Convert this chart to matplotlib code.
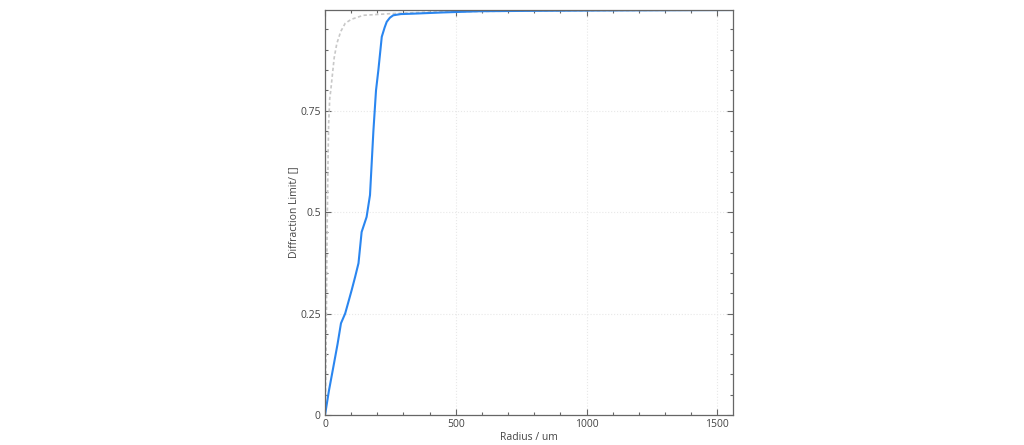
import matplotlib

matplotlib.use("Agg")

import matplotlib.pyplot as plt
from matplotlib.ticker import MultipleLocator, FuncFormatter

# blue curve: encircled energy vs radius
radius_um = [0, 15, 32, 48, 61, 77, 90, 102, 115, 128, 140, 159, 172,
             185, 195, 204, 217, 228, 236, 248, 261, 290, 337, 450,
             593, 800, 1100, 1560]
energy = [0.0, 0.06, 0.119, 0.175, 0.226, 0.25, 0.28, 0.308, 0.34, 0.374,
          0.451, 0.488, 0.542, 0.70, 0.80, 0.85, 0.932, 0.955, 0.969,
          0.979, 0.985, 0.988, 0.989, 0.992, 0.995, 0.996, 0.997, 0.998]

# gray dashed curve: diffraction limit
dl_radius_um = [0, 2, 4, 6, 8, 10, 12, 14, 18, 22, 26, 35, 45, 60, 77,
                100, 147, 250, 400, 800, 1560]
dl_energy = [0.0, 0.05, 0.15, 0.3, 0.45, 0.55, 0.65, 0.72, 0.78, 0.80,
             0.825, 0.88, 0.915, 0.945, 0.965, 0.975, 0.985, 0.989,
             0.993, 0.996, 0.998]

TEXT = "#444444"
plt.rcParams["font.family"] = ["Open Sans", "DejaVu Sans"]

fig = plt.figure(figsize=(10.24, 4.45), dpi=100)
ax = fig.add_axes([0.3174, 0.0674, 0.3984, 0.9101])

ax.plot(dl_radius_um, dl_energy, color="#c8c8c8", linestyle=(0, (2, 1.5)),
        linewidth=1.2)
ax.plot(radius_um, energy, color="#2a86f0", linewidth=1.5)

ax.set_xlim(0, 1560)
ax.set_ylim(0, 0.998)

ax.xaxis.set_major_locator(MultipleLocator(500))
ax.xaxis.set_minor_locator(MultipleLocator(100))
ax.yaxis.set_major_locator(MultipleLocator(0.25))
ax.yaxis.set_minor_locator(MultipleLocator(0.05))
ax.yaxis.set_major_formatter(FuncFormatter(lambda v, p: f"{v:g}"))

ax.tick_params(which="both", direction="in", top=True, right=True,
               colors="#666666", labelcolor=TEXT, labelsize=7.5, width=0.8,
               pad=3)
ax.tick_params(which="major", length=4)
ax.tick_params(which="minor", length=2.5)

for spine in ax.spines.values():
    spine.set_color("#666666")
    spine.set_linewidth(0.9)

ax.grid(True, which="major", color="#e8e8e8", linestyle=":", linewidth=0.8)
ax.set_axisbelow(True)

ax.set_xlabel("Radius / um", fontsize=7.5, color=TEXT, labelpad=1)
ax.set_ylabel("Diffraction Limit/ []", fontsize=7.5, color=TEXT, labelpad=1)

fig.savefig("out.png", dpi=100)
